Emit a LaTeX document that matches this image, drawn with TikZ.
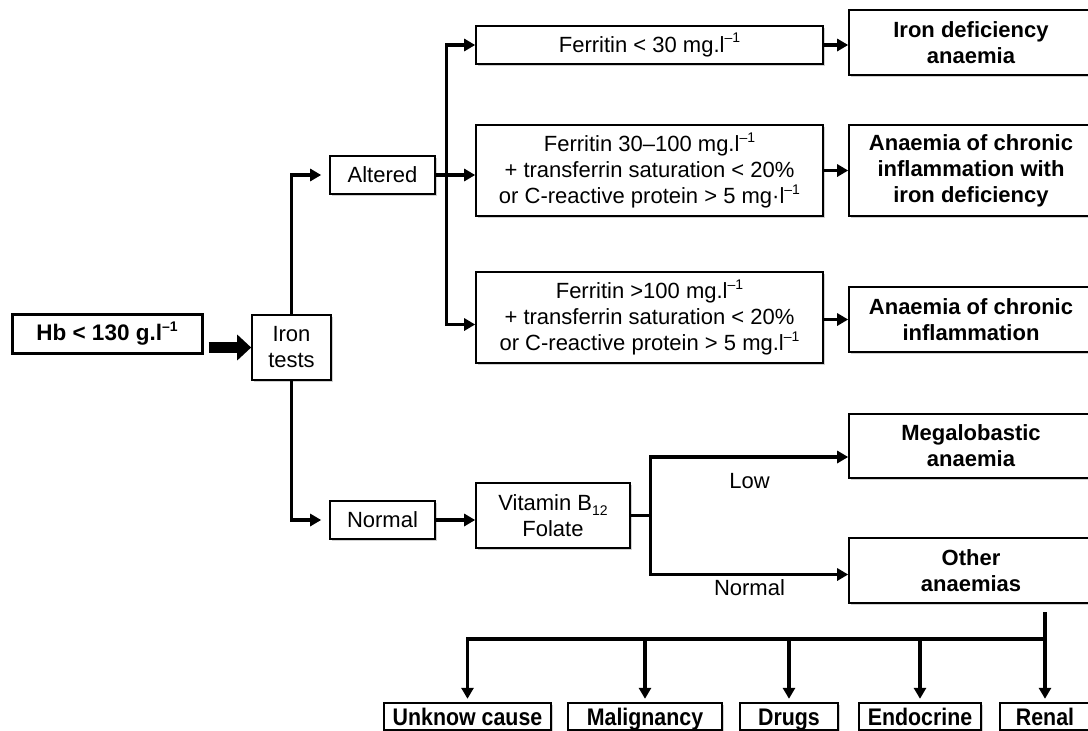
\documentclass[tikz,border=0pt]{standalone}
\usepackage{fontspec}
\setmainfont{Liberation Sans}
\newfontfamily\narrowsans[FakeStretch=0.89]{Liberation Sans}
\usetikzlibrary{positioning,arrows.meta,shadows}

% small raised "-1" and lowered index
\newcommand{\perl}{\raisebox{0.42em}{\fontsize{14}{14}\selectfont –1}}
\newcommand{\lowidx}[1]{\raisebox{-0.22em}{\fontsize{14}{14}\selectfont #1}}

\begin{document}
\begin{tikzpicture}[
            x=1pt, y=-1pt,
            font=\fontsize{22}{26}\selectfont,
            box/.style={draw, line width=1.6pt, fill=white, align=center, inner sep=2pt,
                drop shadow={shadow xshift=1.5pt, shadow yshift=-1.5pt, fill=black!40, opacity=0.45}},
            thickbox/.style={box, line width=3pt, font=\fontsize{22.5}{26}\selectfont\bfseries},
            testbox/.style={box, minimum width=347pt},
            resbox/.style={box, minimum width=244pt, font=\fontsize{22}{26}\selectfont\bfseries},
            causebox/.style={thickbox, line width=2.4pt, minimum height=27pt, inner sep=0pt, text height=17pt, text depth=0pt,
                font=\fontsize{24}{26}\narrowsans\bfseries},
            conn/.style={line width=3.2pt},
            arrow/.style={conn, -{Triangle[length=11pt, width=12pt]}},
            bigarrow/.style={line width=11pt, -{Triangle[length=14pt, width=25pt]}},
            lbl/.style={inner sep=0pt}
        ]
            \useasboundingbox (0,0) rectangle (1088,731);

            % --- START ---
            \node[thickbox, minimum width=190pt, minimum height=39pt] (hb) at (107,333.5) {Hb < 130 g.l\perl};
            \node[box, minimum width=79pt, minimum height=65pt] (iron) at (291.5,347.5) {Iron\\tests};
            \draw[bigarrow, shorten <=5pt] (hb.east |- iron.west) -- (iron.west);

            % --- ALTERED BRANCH ---
            \node[box, minimum width=105pt, minimum height=38pt] (altered) at (382.5,175) {Altered};
            \node[testbox, minimum height=38pt] (fer1) at (649.5,45) {Ferritin < 30 mg.l\perl};
            \node[testbox, minimum height=91pt] (fer2) at (649.5,170.5) {Ferritin 30–100 mg.l\perl\\+ transferrin saturation < 20\%\\or C-reactive protein > 5 mg·l\perl};
            \node[testbox, minimum height=91pt] (fer3) at (649.5,317.5) {Ferritin >100 mg.l\perl\\+ transferrin saturation < 20\%\\or C-reactive protein > 5 mg.l\perl};

            \node[resbox, minimum height=65pt] (res1) at (971,42.5) {Iron deficiency\\anaemia};
            \node[resbox, minimum height=91pt] (res2) at (971,170.5) {Anaemia of chronic\\inflammation with\\iron deficiency};
            \node[resbox, minimum height=65pt] (res3) at (971,319.5) {Anaemia of chronic\\inflammation};

            \draw[arrow, shorten >=8pt] (iron.north) |- (altered.west);
            \coordinate (fork1) at ([xshift=11pt]altered.east);
            \draw[arrow] (altered.east) -- (altered.east -| fer2.west);
            \draw[arrow] (fork1) |- (fer1.west);
            \draw[arrow] (fork1) |- ([yshift=-7pt]fer3.west);

            \draw[arrow] (fer1.east) -- (fer1.east -| res1.west);
            \draw[arrow] (fer2.east) -- (res2.west);
            \draw[arrow] (res3.west -| fer3.east) -- (res3.west);

            % --- NORMAL BRANCH ---
            \node[box, minimum width=105pt, minimum height=38pt] (normal) at (382.5,520) {Normal};
            \node[box, minimum width=154pt, minimum height=65pt] (vitamin) at (553,515.5) {Vitamin B\lowidx{12}\\Folate};
            \node[resbox, minimum height=64pt] (mega) at (971,446) {Megalobastic\\anaemia};
            \node[resbox, minimum height=65pt] (other) at (971,570.5) {Other\\anaemias};

            \draw[arrow, shorten >=8pt] (iron.south) |- (normal.west);
            \draw[arrow] (normal.east) -- (normal.east -| vitamin.west);
            \coordinate (fork2) at ([xshift=20pt]vitamin.east);
            \draw[conn] (vitamin.east) -- (fork2);
            \draw[arrow] (fork2) |- node[lbl, pos=0.75, below=15pt] (lowlbl) {Low} ([yshift=-11pt]mega.west);
            \draw[arrow] (fork2) |- node[lbl, pos=0.75, below=3pt] (normlbl) {Normal} ([yshift=-4pt]other.west);

            % --- OTHER CAUSES ---
            \node[causebox, minimum width=167pt] (unk) at (467.5,716.5) {Unknow cause};
            \node[causebox, minimum width=154pt] (malig) at (645,716.5) {Malignancy};
            \node[causebox, minimum width=98pt] (drugs) at (789,716.5) {Drugs};
            \node[causebox, minimum width=122pt] (endo) at (920,716.5) {Endocrine};
            \node[causebox, minimum width=90pt] (renal) at (1045,716.5) {Renal};

            \coordinate (drop) at (1045,612);
            \coordinate (bus) at (1045,639);
            \draw[conn] (drop) -- (bus);
            \foreach \c in {unk, malig, drugs, endo, renal}
                \draw[arrow, shorten >=3pt] (bus) -| (\c.north);

        \end{tikzpicture}
\end{document}
